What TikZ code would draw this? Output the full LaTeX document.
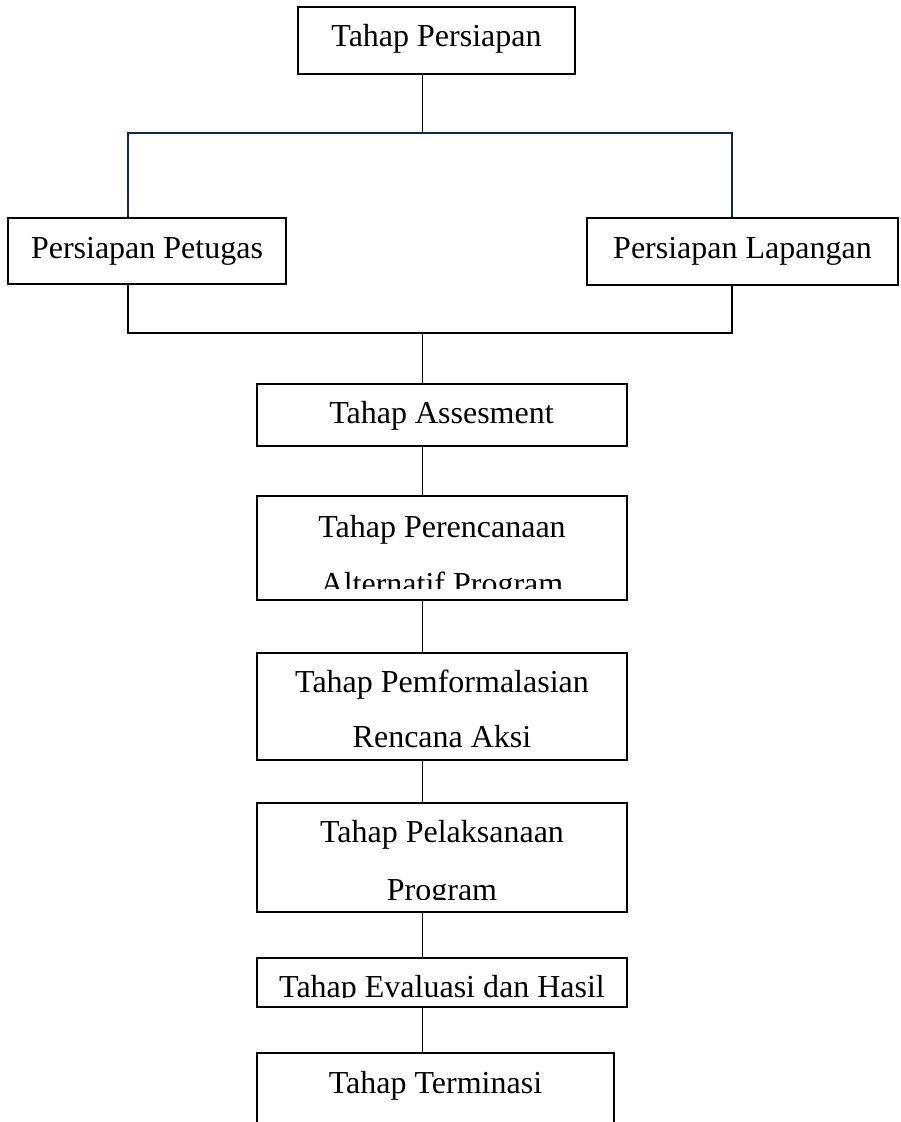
\documentclass[tikz,border=0pt]{standalone}
\usepackage{fontspec}
\setmainfont{Liberation Serif}
\definecolor{navyline}{RGB}{25,40,70}
\begin{document}
\begin{tikzpicture}[x=1pt,y=-1pt,
  box/.style={draw=black,rectangle,line width=1.4pt,inner sep=0pt,fill=none},
  txt/.style={anchor=base,inner sep=0pt,font=\fontsize{32}{38}\selectfont},
  conn/.style={draw=black,line width=1.4pt}]
\useasboundingbox (0,0) rectangle (900,1122);
\clip (0,0) rectangle (900,1122);
\fill[white] (0,0) rectangle (900,1122);

% boxes
\node[box,minimum width=277pt,minimum height=67pt] (TP) at (436.5,40.5) {};
\node[box,minimum width=278pt,minimum height=66pt] (PPet) at (147,251) {};
\node[box,minimum width=311pt,minimum height=67pt] (PLap) at (742.5,251.5) {};
\node[box,minimum width=370pt,minimum height=62pt] (A) at (442,415) {};
\node[box,minimum width=370pt,minimum height=104pt] (B3) at (442,548) {};
\node[box,minimum width=370pt,minimum height=107pt] (B4) at (442,706.5) {};
\node[box,minimum width=370pt,minimum height=109pt] (B5) at (442,857.5) {};
\node[box,minimum width=370pt,minimum height=49pt] (B6) at (442,982.5) {};
\node[box,minimum width=357pt,minimum height=110pt] (B7) at (435.5,1108) {};

% texts
\node[txt] (tTP) at (436.5,46) {Tahap Persiapan};
\node[txt] (tPPet) at (147,258) {Persiapan Petugas};
\node[txt] (tPLap) at (742.5,258) {Persiapan Lapangan};
\node[txt] (tA) at (441.5,423) {Tahap Assesment};
\node[txt] (tB3a) at (442,537) {Tahap Perencanaan};
\begin{scope}
  \clip (B3.north west) rectangle (B3.east |- 0,588.5);
  \node[txt] (tB3b) at (442,594) {Alternatif Program};
\end{scope}
\node[txt] (tB4a) at (442,692) {Tahap Pemformalasian};
\node[txt] (tB4b) at (442,747) {Rencana Aksi};
\node[txt] (tB5a) at (442,842) {Tahap Pelaksanaan};
\begin{scope}
  \clip (B5.north west) rectangle (B5.east |- 0,899);
  \node[txt] (tB5b) at (442,900) {Program};
\end{scope}
\begin{scope}
  \clip (B6.north west) rectangle (B6.east |- 0,997.5);
  \node[txt] (tB6) at (442,997.5) {Tahap Evaluasi dan Hasil};
\end{scope}
\node[txt] (tB7) at (435.5,1093) {Tahap Terminasi};

% connector coordinates
\coordinate (bt) at (422.5,133);
\coordinate (bb) at (422.5,333);
\coordinate (L) at (128,0);
\coordinate (R) at (732,0);

% connectors
\draw[conn] (TP.south -| bt) -- (bt);
\draw[conn,draw=navyline] (PPet.north -| L) |- (bt) -| (PLap.north -| R);
\draw[conn] (PPet.south -| L) |- (bb) -| (PLap.south -| R);
\draw[conn] (bb) -- (A.north -| bb);
\draw[conn] (A.south -| bb) -- (B3.north -| bb);
\draw[conn] (B3.south -| bb) -- (B4.north -| bb);
\draw[conn] (B4.south -| bb) -- (B5.north -| bb);
\draw[conn] (B5.south -| bb) -- (B6.north -| bb);
\draw[conn] (B6.south -| bb) -- (B7.north -| bb);
\end{tikzpicture}
\end{document}
